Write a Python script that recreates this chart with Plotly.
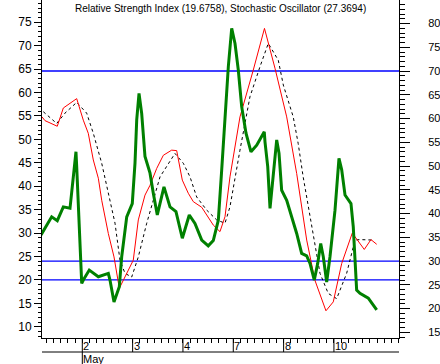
import plotly.graph_objects as go

# hour index: 0 = start of May 2, 7 trading hours per day
day_pos = [0, 7, 14, 21, 28, 35]
day_labels = ["2", "3", "4", "7", "8", "10"]
month_label = "May"

rsi_x = [-5.74, -4.26, -3.48, -2.64, -1.71, -1.02, -0.88, -0.78, -0.32, -0.08, 0.14, 0.97, 2.23, 3.62, 3.85, 4.41,
         5.15, 5.48, 6.18, 6.95, 7.33, 7.57, 7.89, 8.26, 8.72, 9.42, 9.87, 10.43, 11.36, 12.2, 13.03, 13.91, 14.88,
         15.67, 16.61, 17.52, 18.22, 18.92, 19.39, 19.85, 20.31, 20.78, 21.24, 21.7, 22.17, 22.77, 23.46, 24.26,
         25.31, 25.41, 25.79, 26.11, 26.56, 27.04, 27.36, 27.73, 28.43, 29.12, 29.82, 30.51, 31.21, 31.67, 32.27,
         32.74, 33.16, 33.52, 33.99, 34.45, 35.15, 35.7, 36.08, 36.54, 37.37, 37.69, 38.16, 38.62, 39.78, 40.95]
rsi_v = [35.5, 39.3, 38.5, 41.4, 41.1, 51.3, 53.0, 49.9, 34.4, 25.3, 26.0, 28.1, 26.7, 27.4, 26.0, 21.4,
         24.6, 30.9, 39.3, 42.1, 50.6, 59.7, 65.3, 61.1, 52.0, 48.5, 44.3, 39.7, 45.6, 41.4, 40.4, 34.8, 39.7,
         37.9, 34.4, 33.2, 34.3, 38.6, 49.2, 61.1, 70.9, 79.0, 75.8, 70.2, 62.5, 56.9, 53.0, 54.4,
         57.2, 55.1, 49.9, 41.1, 47.7, 55.5, 52.7, 44.9, 42.8, 39.3, 35.8, 31.6, 31.1, 29.5, 26.0,
         29.5, 33.7, 30.9, 25.6, 30.9, 40.7, 51.6, 49.2, 43.9, 42.1, 37.2, 23.9, 23.2, 22.2, 19.7]

k_x = [-5.6, -5.19, -3.48, -2.64, -0.78, 0.14, 0.83, 1.53, 2.23, 2.7, 3.62, 4.41, 5.15, 5.94, 7.09, 7.79,
       8.72, 9.42, 10.35, 11.27, 12.43, 13.13, 13.91, 14.74, 15.44, 16.61, 17.3, 18.22, 19.15, 19.85, 20.54,
       21.93, 23.78, 25.34, 26.8, 28.43, 29.82, 31.21, 32.36, 33.3, 33.89, 34.91, 36.08, 37.55, 38.39, 39.22,
       40.15, 40.95]
k_v = [54.8, 54.0, 52.8, 56.7, 58.7, 54.1, 51.3, 45.6, 41.7, 37.0, 29.9, 24.9, 18.2, 20.6, 24.2, 32.8,
       38.1, 40.2, 43.8, 46.6, 47.7, 47.6, 41.3, 38.5, 36.7, 35.5, 33.8, 31.7, 30.3, 33.5, 42.0,
       54.8, 64.8, 73.7, 65.2, 54.8, 42.7, 28.5, 19.9, 15.7, 13.4, 15.3, 23.5, 30.0, 28.1, 26.5,
       28.6, 27.6]

d_x = [-5.42, -3.56, -2.41, -0.78, 0.61, 1.53, 2.7, 3.39, 4.55, 5.24, 5.94, 6.87, 7.79, 8.96, 10.11, 10.81,
       12.89, 14.05, 14.98, 15.91, 17.3, 18.69, 19.85, 20.54, 21.93, 23.32, 24.71, 25.87, 27.26, 27.96, 29.34,
       30.03, 30.72, 32.13, 33.06, 34.21, 35.38, 36.77, 37.93, 38.62, 40.47]
d_v = [55.9, 53.4, 55.6, 57.9, 55.6, 51.3, 44.9, 39.9, 32.1, 24.2, 21.4, 20.6, 24.9, 32.1, 38.5, 42.0,
       47.0, 44.9, 42.0, 37.7, 34.9, 32.8, 32.1, 35.6, 47.7, 59.1, 65.5, 70.5, 66.9, 61.6, 54.8,
       49.1, 42.0, 29.9, 21.4, 17.1, 16.0, 21.4, 28.5, 28.6, 28.5]

rsi_levels = [70, 30]
stoch_levels = [20]
title_text = "Relative Strength Index (19.6758), Stochastic Oscillator (27.3694)"

FONT = "Liberation Sans, Arial, sans-serif"
PLOT_H = 338.0

fig = go.Figure()
fig.add_trace(go.Scatter(x=rsi_x, y=rsi_v, yaxis="y2", mode="lines",
                         line=dict(color="#008000", width=3), showlegend=False))
fig.add_trace(go.Scatter(x=d_x, y=d_v, yaxis="y", mode="lines",
                         line=dict(color="#000000", width=1, dash="3px,3px"), showlegend=False))
fig.add_trace(go.Scatter(x=k_x, y=k_v, yaxis="y", mode="lines",
                         line=dict(color="#FF0000", width=1), showlegend=False))

shapes = []
for lv in rsi_levels:
    shapes.append(dict(type="line", xref="paper", x0=0, x1=1, yref="y2", y0=lv, y1=lv,
                       line=dict(color="#0000FF", width=1.3), layer="below"))
for lv in stoch_levels:
    shapes.append(dict(type="line", xref="paper", x0=0, x1=1, yref="y", y0=lv, y1=lv,
                       line=dict(color="#0000FF", width=1.3), layer="below"))
# second baseline of the date axis
shapes.append(dict(type="line", xref="paper", x0=0, x1=1, yref="paper",
                   y0=-14 / PLOT_H, y1=-14 / PLOT_H, line=dict(color="black", width=1)))
for p in day_pos:
    shapes.append(dict(type="line", xref="x", x0=p, x1=p, yref="paper", y0=0, y1=-14 / PLOT_H,
                       line=dict(color="black", width=1)))
shapes.append(dict(type="line", xref="x", x0=day_pos[0], x1=day_pos[0], yref="paper",
                   y0=-14 / PLOT_H, y1=-27 / PLOT_H, line=dict(color="black", width=1)))

annotations = [dict(text=title_text, xref="paper", yref="paper", x=0.5, y=1 - 8.5 / PLOT_H,
                    xanchor="center", yanchor="middle", showarrow=False,
                    font=dict(family=FONT, size=10, color="black"))]
for p, lab in zip(day_pos, day_labels):
    annotations.append(dict(text=lab, xref="x", yref="paper", x=p, y=-7.5 / PLOT_H,
                            xanchor="left", yanchor="middle", xshift=-1, showarrow=False,
                            font=dict(family=FONT, size=11, color="black")))
annotations.append(dict(text=month_label, xref="x", yref="paper", x=day_pos[0], y=-20.5 / PLOT_H,
                        xanchor="left", yanchor="middle", xshift=-1, showarrow=False,
                        font=dict(family=FONT, size=11, color="black")))

fig.update_layout(
    width=440, height=364,
    margin=dict(l=42, r=41, t=0, b=26, pad=0),
    paper_bgcolor="white", plot_bgcolor="white",
    showlegend=False,
    shapes=shapes, annotations=annotations,
    xaxis=dict(range=[-5.605, 44.05], showgrid=False, zeroline=False, showline=True,
               linecolor="black", linewidth=1, ticks="outside", tickcolor="black",
               ticklen=4, dtick=1, tick0=0, showticklabels=False),
    yaxis=dict(range=[7.59, 79.76], showgrid=False, zeroline=False, showline=True,
               linecolor="black", linewidth=1, ticks="outside", ticklen=7, tickcolor="black",
               dtick=5, tick0=0, tickfont=dict(family=FONT, size=12, color="black"),
               minor=dict(dtick=1, tick0=0, ticks="outside", ticklen=3, tickcolor="black")),
    yaxis2=dict(range=[13.8, 84.95], overlaying="y", side="right", showgrid=False, zeroline=False,
                showline=True, linecolor="black", linewidth=1, ticks="outside", ticklen=10,
                tickcolor="black", dtick=5, tick0=0, ticklabelstandoff=16,
                tickfont=dict(family=FONT, size=11, color="black"),
                minor=dict(dtick=1, tick0=0, ticks="outside", ticklen=5, tickcolor="black")),
)

fig.write_html("out.html", config={"displayModeBar": False},
               post_script="document.body.style.margin='0';document.body.style.padding='0';")
